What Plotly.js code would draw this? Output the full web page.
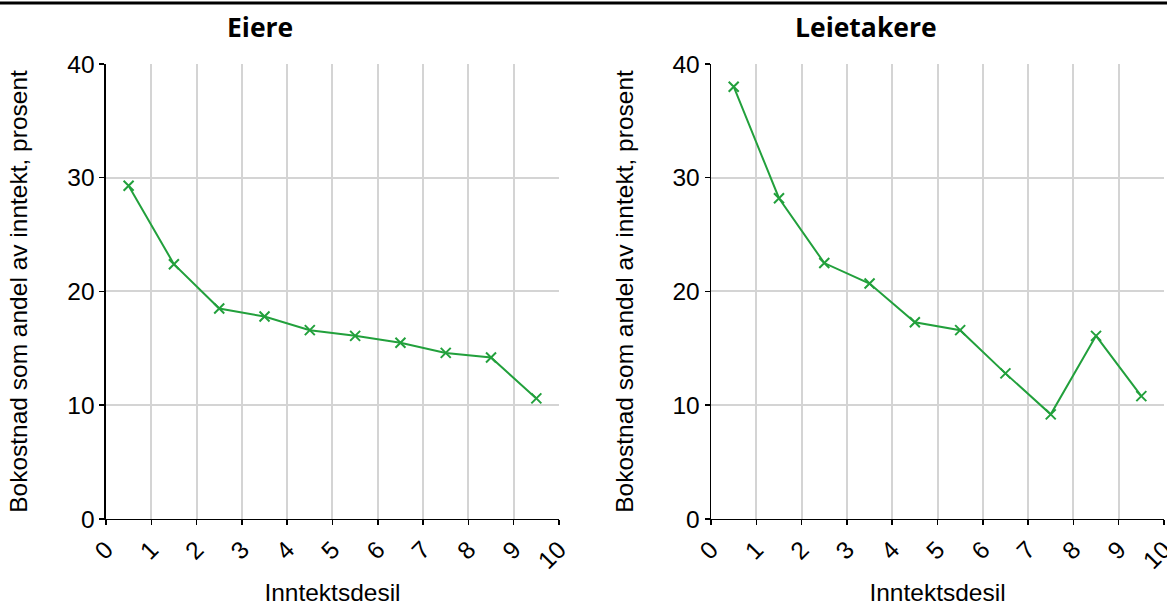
<!DOCTYPE html>
<html><head><meta charset="utf-8">
<script src="https://cdn.plot.ly/plotly-3.0.1.min.js"></script>
<style>html,body{margin:0;padding:0;background:#fff}#chart{width:1167px;height:606px}</style>
</head><body><div id="chart"></div>
<script>
const deciles = [0.5,1.5,2.5,3.5,4.5,5.5,6.5,7.5,8.5,9.5];
const eiere = [29.3,22.4,18.5,17.8,16.6,16.1,15.5,14.6,14.2,10.6];
const leietakere = [38.0,28.2,22.5,20.7,17.3,16.6,12.8,9.2,16.1,10.8];
const panelTitles = ["Eiere","Leietakere"];
const xTitle = "Inntektsdesil";
const yTitle = "Bokostnad som andel av inntekt, prosent";
const xTicks = [0,1,2,3,4,5,6,7,8,9,10];
const yTicks = [0,10,20,30,40];

const green = "#22a03c";
const tickFont = {family:"Liberation Sans, Arial, sans-serif", size:24.5, color:"#000"};
function trace(y, xa, ya){
  return {x:deciles, y:y, xaxis:xa, yaxis:ya, type:"scatter", mode:"lines+markers",
    line:{color:green, width:2}, marker:{symbol:"x-thin", size:10, line:{color:green, width:2}},
    showlegend:false, hoverinfo:"x+y"};
}
function xax(dom, anchor){
  return {domain:dom, anchor:anchor, range:[0,10], tickvals:xTicks, ticktext:xTicks.map(String),
    tickangle:-45, ticks:"outside", ticklen:5, tickwidth:1.5, tickcolor:"#000",
    showline:true, linecolor:"#000", linewidth:1.5, showgrid:true, gridcolor:"#d4d4d4", gridwidth:2,
    zeroline:false, tickfont:tickFont, fixedrange:true, ticklabeloverflow:"allow",
    title:{text:xTitle, font:tickFont}};
}
function yax(anchor){
  return {domain:[0.1436,0.8944], anchor:anchor, range:[0,40], tickvals:yTicks,
    ticks:"outside", ticklen:5, tickwidth:1.5, tickcolor:"#000",
    showline:true, linecolor:"#000", linewidth:1.5, showgrid:true, gridcolor:"#d4d4d4", gridwidth:2,
    zeroline:false, tickfont:tickFont, fixedrange:true, ticklabeloverflow:"allow",
    title:{text:yTitle, font:tickFont, standoff:32}};
}
const xDom1 = [0.0908,0.4790], xDom2 = [0.6093,0.9974];
const titleFont = {family:"Open Sans, sans-serif", size:26.5, color:"#000"};
const layout = {
  width:1167, height:606, margin:{l:0,r:0,t:0,b:0},
  paper_bgcolor:"#fff", plot_bgcolor:"#fff",
  xaxis: xax(xDom1,"y"), yaxis: yax("x"),
  xaxis2: xax(xDom2,"y2"), yaxis2: yax("x2"),
  annotations:[
    {text:"<b>"+panelTitles[0]+"</b>", xref:"paper", yref:"paper", x:260/1167, y:1-27/606, showarrow:false,
     xanchor:"center", yanchor:"middle", font:titleFont},
    {text:"<b>"+panelTitles[1]+"</b>", xref:"paper", yref:"paper", x:866/1167, y:1-27/606, showarrow:false,
     xanchor:"center", yanchor:"middle", font:titleFont}
  ],
  shapes:[{type:"line", xref:"paper", yref:"paper", x0:0, x1:1, y0:1-3/606, y1:1-3/606, line:{color:"#000", width:3}}]
};
Plotly.newPlot("chart", [trace(eiere,"x","y"), trace(leietakere,"x2","y2")], layout, {displayModeBar:false, staticPlot:true});
</script></body></html>
